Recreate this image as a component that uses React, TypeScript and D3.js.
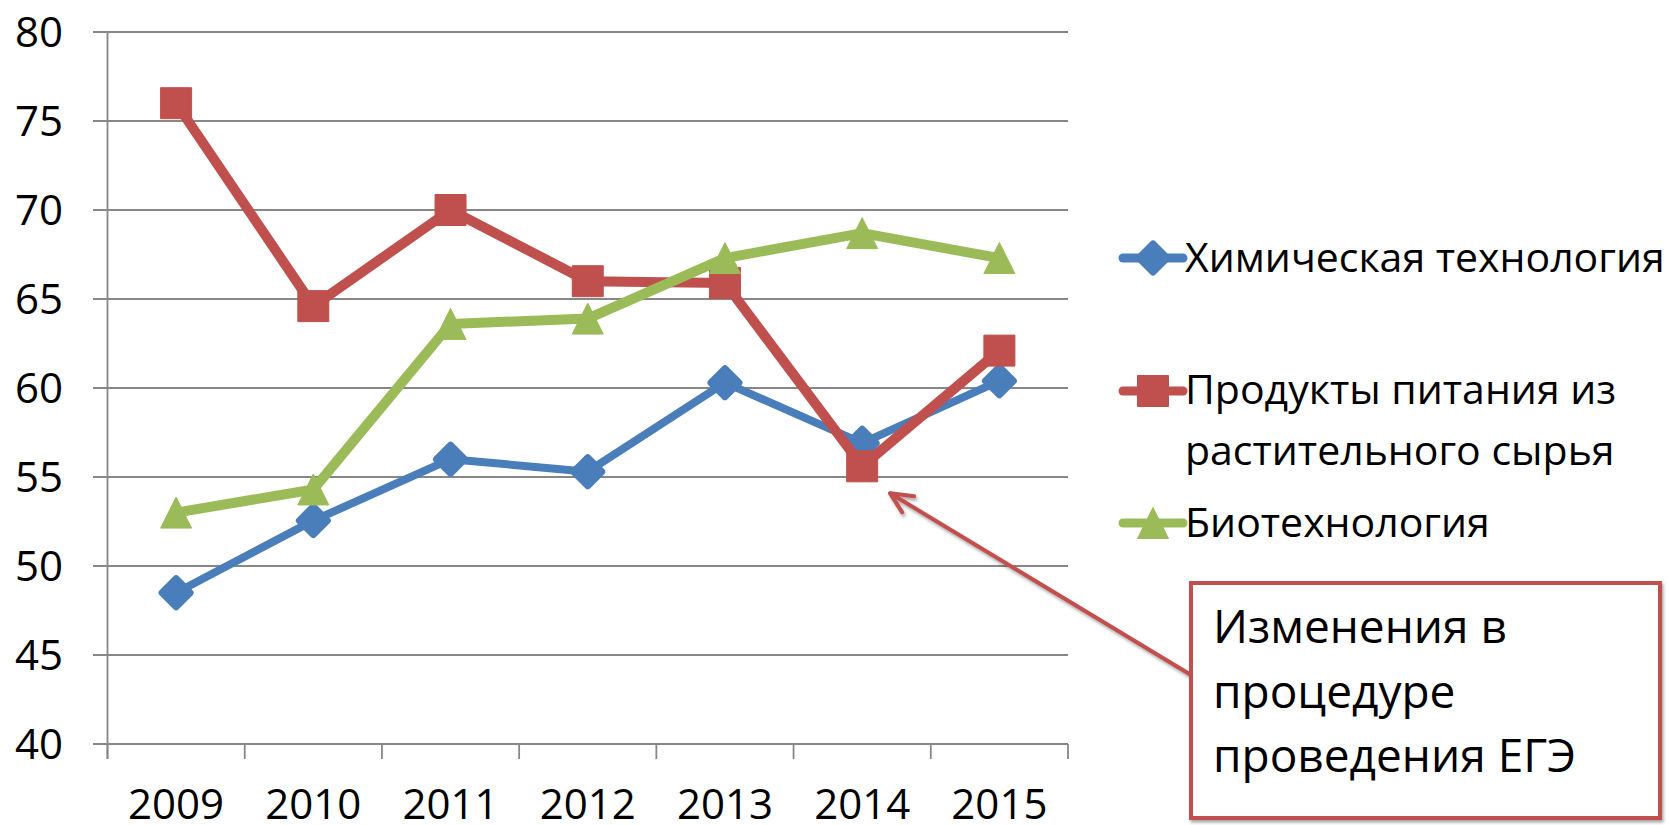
import React from "react";
import * as d3 from "d3";

const years = ["2009", "2010", "2011", "2012", "2013", "2014", "2015"];
const chemTech = [48.5, 52.55, 56.0, 55.3, 60.3, 56.9, 60.4];
const foodProducts = [76.0, 64.6, 70.0, 66.0, 65.9, 55.6, 62.1];
const biotech = [53.0, 54.3, 63.6, 63.9, 67.3, 68.7, 67.3];
const yTicks = [40, 45, 50, 55, 60, 65, 70, 75, 80];
const thresholdValue = 60;
const seriesNames = ["Химическая технология", "Продукты питания из|растительного сырья", "Биотехнология"];
const annotationLines = ["Изменения в", "процедуре", "проведения ЕГЭ"];
const annotatedYearIndex = 5;

const W = 1669;
const H = 825;
const FONT = "'Open Sans', 'Noto Sans', sans-serif";
const BLUE = "#4A7EBB";
const RED = "#C0504D";
const GREEN = "#9BBB59";
const GRID = "#878787";

function markerPath(kind: string, cx: number, cy: number): string {
  if (kind === "diamond") {
    const r = 14;
    return `M${cx},${cy - r}L${cx + r},${cy}L${cx},${cy + r}L${cx - r},${cy}Z`;
  }
  if (kind === "square") {
    const r = 15.5;
    return `M${cx - r},${cy - r}H${cx + r}V${cy + r}H${cx - r}Z`;
  }
  const w = 15.5;
  const h = 15.5;
  return `M${cx},${cy - h}L${cx + w},${cy + h}L${cx - w},${cy + h}Z`;
}

export default function App() {
  const x = d3.scaleBand<string>().domain(years).range([107.5, 1068]).padding(0);
  const y = d3.scaleLinear().domain([40, 80]).range([744, 32]);
  const cx = (i: number) => (x(years[i]) as number) + x.bandwidth() / 2;

  const series = [
    { name: seriesNames[0], values: chemTech, color: BLUE, marker: "diamond", width: 8 },
    { name: seriesNames[1], values: foodProducts, color: RED, marker: "square", width: 10 },
    { name: seriesNames[2], values: biotech, color: GREEN, marker: "triangle", width: 10 },
  ];

  const line = d3
    .line<number>()
    .x((_, i) => cx(i))
    .y((d) => y(d));

  const boundaries = years.map((yr) => x(yr) as number).concat([1068]);

  const legendY = [258, 391, 523];
  const legendTextBase = [272, 404, 537];

  const tipX = cx(annotatedYearIndex) + 28;
  const tipY = y(foodProducts[annotatedYearIndex]) + 27;
  const boxL = 1191, boxT = 583, boxR = 1660, boxB = 818;
  const arrowEndX = boxL, arrowEndY = 675;

  return (
    <svg width={W} height={H} style={{ position: "absolute", left: 0, top: 0, background: "#fff" }}>
      <defs>
        <filter id="shadow" x="-10%" y="-50%" width="130%" height="200%">
          <feDropShadow dx="1.5" dy="2.5" stdDeviation="1.8" floodColor="#000" floodOpacity="0.35" />
        </filter>
      </defs>
      {/* gridlines */}
      {yTicks.map((t) => (
        <line key={"g" + t} x1={93} x2={1068} y1={y(t)} y2={y(t)} stroke={GRID} strokeWidth={1.8} />
      ))}
      {/* y axis */}
      <line x1={107.5} x2={107.5} y1={y(80)} y2={y(40) + 15} stroke={GRID} strokeWidth={1.8} />
      {/* x ticks */}
      {boundaries.map((b, i) => (
        <line key={"xt" + i} x1={b} x2={b} y1={y(40)} y2={y(40) + 15} stroke={GRID} strokeWidth={1.8} />
      ))}
      {/* y labels */}
      {yTicks.map((t) => (
        <text key={"yl" + t} x={63} y={y(t)} dy="0.36em" textAnchor="end" fontFamily={FONT} fontSize={42} fill="#000">
          {t}
        </text>
      ))}
      {/* x labels */}
      {years.map((yr, i) => (
        <text key={"xl" + yr} x={cx(i)} y={819} textAnchor="middle" fontFamily={FONT} fontSize={42} fill="#000">
          {yr}
        </text>
      ))}
      {/* series */}
      {series.map((s) => (
        <g key={s.name}>
          <path d={line(s.values) as string} fill="none" stroke={s.color} strokeWidth={s.width} strokeLinejoin="round" />
          {s.values.map((v, i) => (
            <path
              key={i}
              d={markerPath(s.marker, cx(i), y(v))}
              fill={s.color}
              stroke={s.color}
              strokeWidth={s.marker === "diamond" ? 7 : 1}
              strokeLinejoin="round"
            />
          ))}
        </g>
      ))}
      {/* threshold line */}
      <line x1={28} x2={1114} y1={y(thresholdValue)} y2={y(thresholdValue)} stroke={RED} strokeWidth={5} filter="url(#shadow)" />
      {/* legend */}
      {series.map((s, k) => (
        <g key={"lg" + k}>
          <line x1={1123} x2={1183} y1={legendY[k]} y2={legendY[k]} stroke={s.color} strokeWidth={9} strokeLinecap="round" />
          <path
            d={markerPath(s.marker, 1153, legendY[k])}
            fill={s.color}
            stroke={s.color}
            strokeWidth={s.marker === "diamond" ? 7 : 1}
            strokeLinejoin="round"
          />
          {s.name.split("|").map((ln, j) => (
            <text key={j} x={1185} y={legendTextBase[k] + j * 61} fontFamily={FONT} fontSize={41} fill="#000">
              {ln}
            </text>
          ))}
        </g>
      ))}
      {/* annotation arrow */}
      <g filter="url(#shadow)" stroke={RED} strokeWidth={4} fill="none" strokeLinecap="round">
        <line x1={arrowEndX} y1={arrowEndY} x2={tipX} y2={tipY} />
        <polyline points={`${tipX + 24},${tipY + 3} ${tipX},${tipY} ${tipX + 12},${tipY + 19}`} strokeLinejoin="round" />
      </g>
      {/* annotation box */}
      <rect x={boxL} y={boxT} width={boxR - boxL} height={boxB - boxT} fill="#fff" stroke={RED} strokeWidth={4} filter="url(#shadow)" />
      {annotationLines.map((ln, j) => (
        <text key={"an" + j} x={1213} y={643 + j * 64.5} fontFamily={FONT} fontSize={46} fill="#000">
          {ln}
        </text>
      ))}
    </svg>
  );
}
